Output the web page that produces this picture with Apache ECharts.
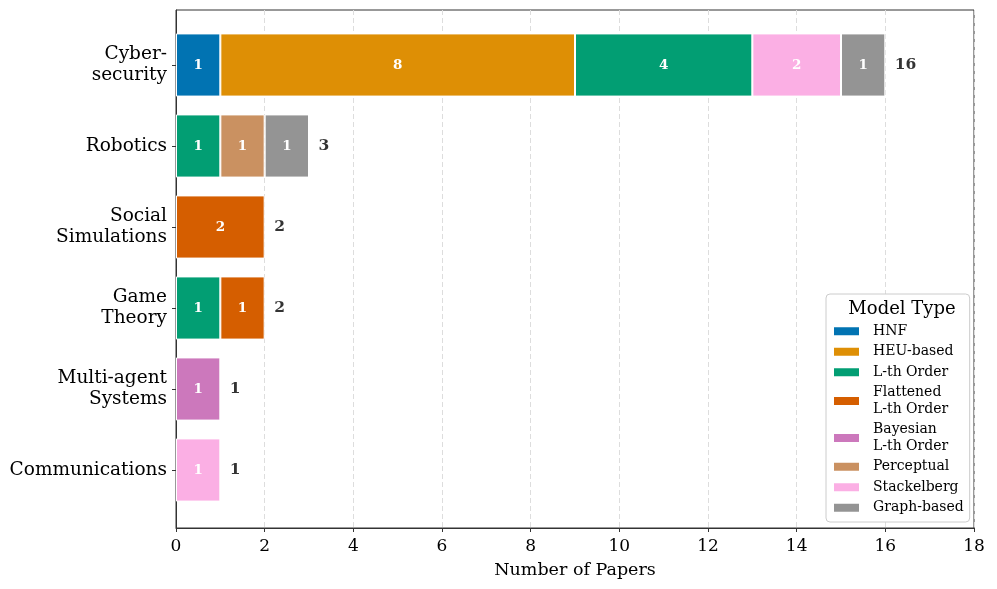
<!DOCTYPE html>
<html><head><meta charset="utf-8">
<script src="https://cdn.jsdelivr.net/npm/echarts@6/dist/echarts.min.js"></script>
<style>html,body{margin:0;padding:0;background:#fff}#c{width:997px;height:589px}</style>
</head><body><div id="c"></div>
<script>
const categories = ["Cyber-\nsecurity", "Robotics", "Social\nSimulations", "Game\nTheory", "Multi-agent\nSystems", "Communications"];
const seriesNames = ["HNF", "HEU-based", "L-th Order", "Flattened L-th Order", "Bayesian L-th Order", "Perceptual", "Stackelberg", "Graph-based"];
const HNF        = [1, 0, 0, 0, 0, 0];
const HEU        = [8, 0, 0, 0, 0, 0];
const LthOrder   = [4, 1, 0, 1, 0, 0];
const Flattened  = [0, 0, 2, 1, 0, 0];
const Bayesian   = [0, 0, 0, 0, 1, 0];
const Perceptual = [0, 1, 0, 0, 0, 0];
const Stackelberg= [2, 0, 0, 0, 0, 1];
const Graph      = [1, 1, 0, 0, 0, 0];
const xTicks = [0, 2, 4, 6, 8, 10, 12, 14, 16, 18];

const colors = ["#0173b2", "#de8f05", "#029e73", "#d55e00", "#cc78bc", "#ca9161", "#fbafe4", "#949494"];
const allData = [HNF, HEU, LthOrder, Flattened, Bayesian, Perceptual, Stackelberg, Graph];
const totals = categories.map((c, i) => allData.reduce((s, a) => s + a[i], 0));
const FONT = "DejaVu Serif";

const series = seriesNames.map((n, k) => ({
  name: n, type: 'bar', stack: 'total', xAxisIndex: 1, yAxisIndex: 1,
  barWidth: '78%',
  itemStyle: { color: colors[k], borderColor: '#ffffff', borderWidth: 1 },
  label: { show: true, position: 'inside', color: '#fff', fontFamily: FONT, fontWeight: 'bold', fontSize: 13.5,
           formatter: p => (p.value ? String(p.value) : '') },
  data: allData[k].map(v => (v ? v : null))
}));
series.push({
  name: '__total', type: 'scatter', xAxisIndex: 1, yAxisIndex: 1, symbolSize: 1,
  itemStyle: { color: 'rgba(0,0,0,0)' }, silent: true,
  label: { show: true, position: 'right', distance: 9, color: '#000', fontFamily: FONT, fontWeight: 'bold', fontSize: 15.5,
           formatter: p => String(p.value[0]) },
  data: totals.map((t, i) => [t, i])
});

const chart = echarts.init(document.getElementById('c'));
chart.setOption({
  animation: false,
  textStyle: { fontFamily: FONT },
  title: { text: 'Model Type', left: 897, top: 295, textAlign: 'center', z: 20, zlevel: 1,
           textStyle: { fontFamily: FONT, fontWeight: 'normal', fontSize: 18, color: '#000' } },
  legend: {
    data: seriesNames, orient: 'vertical', left: 826, top: 294, selectedMode: false,
    backgroundColor: '#fff', borderColor: '#cccccc', borderWidth: 1, borderRadius: 4,
    padding: [29, 6, 6, 6], itemWidth: 27, itemHeight: 10, itemGap: 4,
    icon: 'rect',
    textStyle: { fontFamily: FONT, fontSize: 14, lineHeight: 16.5, color: '#000', padding: [0, 0, 0, 8] },
    formatter: n => n.replace(' L-th', '\nL-th'),
    z: 10
  },
  grid: [
    { left: 176, right: 23, top: 10, bottom: 61, show: true, borderColor: '#333', borderWidth: 1, backgroundColor: 'transparent' },
    { left: 176, right: 23, top: 24.5, bottom: 78.5 }
  ],
  xAxis: [
    { type: 'value', gridIndex: 0, min: 0, max: 18, interval: 2,
      name: 'Number of Papers', nameLocation: 'middle', nameGap: 33,
      nameTextStyle: { fontFamily: FONT, fontSize: 17.5, color: '#000' },
      axisLine: { show: true, lineStyle: { color: '#333', width: 1 } },
      axisTick: { show: true, length: 4, lineStyle: { color: '#333' } },
      axisLabel: { fontFamily: FONT, fontSize: 17, color: '#000', margin: 10,
                   formatter: v => (xTicks.indexOf(v) >= 0 ? String(v) : '') },
      splitLine: { show: true, lineStyle: { color: '#dddddd', type: [5, 3], width: 1 } } },
    { type: 'value', gridIndex: 1, min: 0, max: 18, interval: 2, show: false, splitLine: { show: false } }
  ],
  yAxis: [
    { type: 'value', gridIndex: 0, min: 0, max: 1, axisLine: { show: true, lineStyle: { color: '#333' } },
      axisTick: { show: false }, axisLabel: { show: false }, splitLine: { show: false } },
    { type: 'category', gridIndex: 1, data: categories, inverse: true,
      axisLine: { show: false },
      axisTick: { show: true, alignWithLabel: true, length: 4, lineStyle: { color: '#333' } },
      axisLabel: { fontFamily: FONT, fontSize: 18.5, lineHeight: 21, color: '#000', margin: 9, align: 'right',
                   padding: [5, 0, 0, 0] } }
  ],
  series: series
});
</script></body></html>
